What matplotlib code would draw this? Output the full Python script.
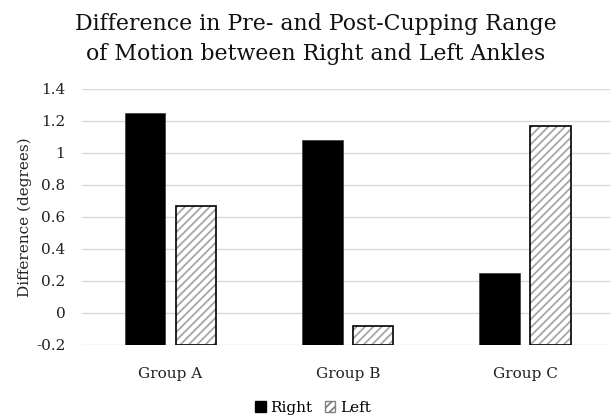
import matplotlib
matplotlib.use("Agg")
import matplotlib.pyplot as plt
import numpy as np
from matplotlib.patches import Patch

categories = ["Group A", "Group B", "Group C"]
right_vals = [1.25, 1.08, 0.25]
left_vals = [0.67, -0.08, 1.17]
yticks = [-0.2, 0, 0.2, 0.4, 0.6, 0.8, 1, 1.2, 1.4]
ytick_labels = ["-0.2", "0", "0.2", "0.4", "0.6", "0.8", "1", "1.2", "1.4"]

plt.rcParams['font.family'] = ['DejaVu Serif']
plt.rcParams['hatch.linewidth'] = 1.3

fig = plt.figure(figsize=(6.10, 4.18), dpi=100)
ax = fig.add_axes([82/610, 1-345/418, 1-82/610, (345-89)/418])

base = -0.2
x = np.arange(len(categories))
w = 0.228
ax.bar(x - 0.143, np.array(right_vals) - base, bottom=base, width=w,
       color='black', edgecolor='#444444', linewidth=0.6, zorder=3, label='Right')
ax.bar(x + 0.144, np.array(left_vals) - base, bottom=base, width=w,
       color='white', edgecolor='#a6a6a6', linewidth=0, hatch='////', zorder=3)
ax.bar(x + 0.144, np.array(left_vals) - base, bottom=base, width=w,
       facecolor='none', edgecolor='black', linewidth=1.2, zorder=4)

ax.set_ylim(-0.2, 1.4)
ax.set_xlim(-0.5, 2.48)
ax.set_yticks(yticks)
ax.set_yticklabels(ytick_labels, fontsize=11)
ax.set_xticks(x)
ax.set_xticklabels(categories, fontsize=11)
ax.tick_params(axis='y', length=0, pad=12, colors='#222222')
ax.tick_params(axis='x', length=0, pad=16, colors='#222222')
ax.grid(axis='y', color='#d9d9d9', linewidth=1.0, zorder=0)
for s in ax.spines.values():
    s.set_visible(False)

ax.set_ylabel("Difference (degrees)", fontsize=11, color='#222222', labelpad=3)
fig.text(316/610, 1-39/418, "Difference in Pre- and Post-Cupping Range\nof Motion between Right and Left Ankles",
         ha='center', va='center', fontsize=15.8, color='#111111', linespacing=1.45)

handles = [Patch(facecolor='black', edgecolor='black', label='Right'),
           Patch(facecolor='white', edgecolor='#808080', hatch='////', label='Left')]
fig.legend(handles=handles, loc='center', bbox_to_anchor=(313/610, 1-408/418), ncol=2,
           frameon=False, fontsize=11, handlelength=0.7, handleheight=0.7,
           handletextpad=0.3, columnspacing=0.8)

fig.savefig("out.png", dpi=100)
